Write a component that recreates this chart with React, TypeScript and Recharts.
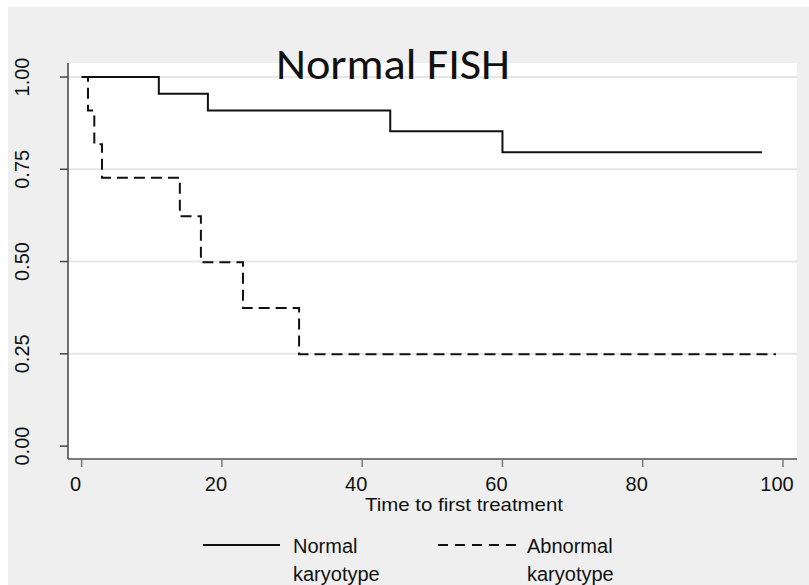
import { CartesianGrid, Line, LineChart, XAxis, YAxis } from 'recharts';

// Kaplan-Meier steps (time, survival)
const normalTimes = [0, 11, 18, 44, 60, 97];
const normalSurv = [1, 0.955, 0.909, 0.853, 0.796, 0.796];
const abnormalTimes = [0, 0.9, 1.8, 2.9, 14, 17, 23, 31, 99];
const abnormalSurv = [1, 0.909, 0.818, 0.727, 0.623, 0.498, 0.374, 0.249, 0.249];

const xTicks = [0, 20, 40, 60, 80, 100];
const yTicks = [0, 0.25, 0.5, 0.75, 1];
const gridValues = [0.25, 0.5, 0.75, 1];

const normalData = normalTimes.map((t, i) => ({ t, s: normalSurv[i] }));
const abnormalData = abnormalTimes.map((t, i) => ({ t, s: abnormalSurv[i] }));

const FONT = '"Liberation Sans", Arial, sans-serif';

function XTick(props: any) {
  const { x, payload } = props;
  return (
    <text x={x - 6} y={491} textAnchor="middle" fontFamily={FONT} fontSize={20} fill="#111">
      {payload.value}
    </text>
  );
}

function YTick(props: any) {
  const { y, payload } = props;
  const cx = 22;
  return (
    <text
      x={cx}
      y={y}
      transform={`rotate(-90 ${cx} ${y})`}
      textAnchor="middle"
      dominantBaseline="central"
      fontFamily={FONT}
      fontSize={20}
      fill="#111"
    >
      {Number(payload.value).toFixed(2)}
    </text>
  );
}

export default function App() {
  return (
    <div style={{ position: 'absolute', left: 0, top: 0, width: 809, height: 585, background: '#fff', overflow: 'hidden' }}>
      <div style={{ position: 'absolute', left: 8, top: 7, right: 0, bottom: 0, background: '#efefef' }} />
      <div style={{ position: 'absolute', left: 0, top: 0 }}>
        <LineChart width={809} height={585} margin={{ top: 63, right: 12, bottom: 86, left: 8 }}>
          <CartesianGrid
            horizontalValues={gridValues}
            vertical={false}
            stroke="#e6e6e6"
            strokeWidth={2}
            fill="#ffffff"
            fillOpacity={1}
          />
          <XAxis
            type="number"
            dataKey="t"
            domain={[-1.95, 102]}
            ticks={xTicks}
            allowDataOverflow
            height={40}
            tickSize={8}
            axisLine={{ stroke: '#7a7a7a', strokeWidth: 2 }}
            tickLine={{ stroke: '#7a7a7a', strokeWidth: 1.5 }}
            tick={<XTick />}
          />
          <YAxis
            type="number"
            domain={[-0.035, 1.038]}
            ticks={yTicks}
            allowDataOverflow
            width={60}
            tickSize={8}
            axisLine={{ stroke: '#444', strokeWidth: 1.5 }}
            tickLine={{ stroke: '#444', strokeWidth: 1.5 }}
            tick={<YTick />}
          />
          <Line
            data={normalData}
            dataKey="s"
            type="stepAfter"
            stroke="#111"
            strokeWidth={2}
            dot={false}
            activeDot={false}
            isAnimationActive={false}
          />
          <Line
            data={abnormalData}
            dataKey="s"
            type="stepAfter"
            stroke="#111"
            strokeWidth={2}
            strokeDasharray="11 6"
            dot={false}
            activeDot={false}
            isAnimationActive={false}
          />
        </LineChart>
      </div>
      <svg width={809} height={585} style={{ position: 'absolute', left: 0, top: 0, pointerEvents: 'none' }}>
        <text
          x={276}
          y={79}
          fontFamily='Carlito, "Open Sans", sans-serif'
          fontSize={43}
          textLength={234}
          lengthAdjust="spacingAndGlyphs"
          fill="#111"
        >
          Normal FISH
        </text>
        <text
          x={365}
          y={511}
          fontFamily={FONT}
          fontSize={19}
          textLength={198}
          lengthAdjust="spacingAndGlyphs"
          fill="#111"
        >
          Time to first treatment
        </text>
        <line x1={203} x2={280} y1={545} y2={545} stroke="#111" strokeWidth={2} />
        <text x={293} y={553} fontFamily={FONT} fontSize={20} fill="#111">Normal</text>
        <text x={293} y={581} fontFamily={FONT} fontSize={20} fill="#111">karyotype</text>
        <line x1={438} x2={517} y1={545} y2={545} stroke="#111" strokeWidth={2} strokeDasharray="10 7" />
        <text x={527} y={553} fontFamily={FONT} fontSize={20} fill="#111">Abnormal</text>
        <text x={527} y={581} fontFamily={FONT} fontSize={20} fill="#111">karyotype</text>
      </svg>
    </div>
  );
}
